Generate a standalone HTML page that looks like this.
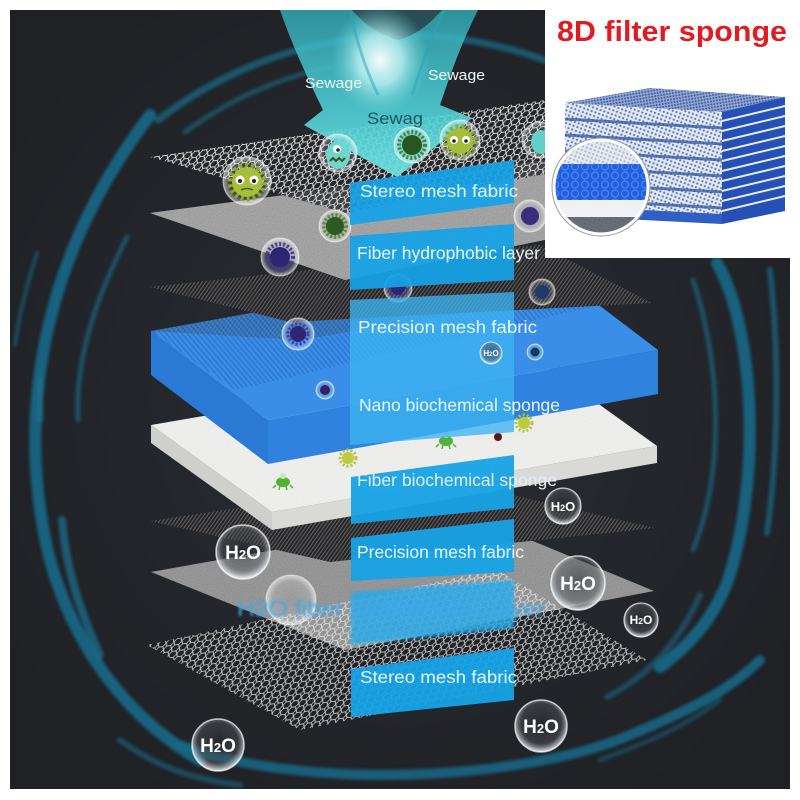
<!DOCTYPE html>
<html><head><meta charset="utf-8"><style>
html,body{margin:0;padding:0;background:#fff;}
svg{display:block;}
text{font-family:"Liberation Sans",Arial,sans-serif;}
</style></head><body>
<svg width="800" height="800" viewBox="0 0 800 800" xmlns="http://www.w3.org/2000/svg">
<defs>
  <clipPath id="darkclip"><rect x="10" y="10" width="780" height="779"/></clipPath>
  <radialGradient id="bgglow" cx="0.5" cy="0.5" r="0.6">
    <stop offset="0" stop-color="#2a2d33"/><stop offset="1" stop-color="#1f2125"/>
  </radialGradient>
  <radialGradient id="topglow" cx="0.5" cy="0.5" r="0.5">
    <stop offset="0" stop-color="#ffffff" stop-opacity="0.95"/>
    <stop offset="0.45" stop-color="#bdf1f2" stop-opacity="0.8"/>
    <stop offset="1" stop-color="#5fd2d8" stop-opacity="0"/>
  </radialGradient>
  <linearGradient id="arrowg" x1="0" y1="0" x2="0" y2="1">
    <stop offset="0" stop-color="#35b6c4" stop-opacity="0.75"/>
    <stop offset="0.6" stop-color="#4fd0d6" stop-opacity="0.9"/>
    <stop offset="1" stop-color="#6fe0e0" stop-opacity="0.95"/>
  </linearGradient>
  <radialGradient id="bub" cx="0.5" cy="0.5" r="0.5">
    <stop offset="0" stop-color="#ffffff" stop-opacity="0.05"/>
    <stop offset="0.75" stop-color="#ffffff" stop-opacity="0.15"/>
    <stop offset="1" stop-color="#ffffff" stop-opacity="0.6"/>
  </radialGradient>
  <radialGradient id="hbub" cx="0.5" cy="0.45" r="0.55">
    <stop offset="0" stop-color="#2a2c30" stop-opacity="0.55"/>
    <stop offset="0.7" stop-color="#55585e" stop-opacity="0.45"/>
    <stop offset="0.92" stop-color="#d8dde2" stop-opacity="0.75"/>
    <stop offset="1" stop-color="#ffffff" stop-opacity="0.9"/>
  </radialGradient>
  <pattern id="hex" width="8" height="6" patternUnits="userSpaceOnUse" patternTransform="rotate(-8) skewX(-30)">
    <path d="M0,0 L2,3 L0,6 M2,3 L6,3 M6,3 L8,0 M6,3 L8,6" stroke="#e4e4e4" stroke-width="0.9" fill="none"/>
  </pattern>
  <pattern id="hatch" width="3" height="3" patternUnits="userSpaceOnUse" patternTransform="rotate(35)">
    <rect width="3" height="3" fill="#262628"/>
    <line x1="0.5" y1="0" x2="0.5" y2="3" stroke="#626264" stroke-width="1"/>
  </pattern>
  <pattern id="bhatch" width="4" height="4" patternUnits="userSpaceOnUse" patternTransform="rotate(-40)">
    <line x1="1" y1="0" x2="1" y2="4" stroke="#1f5eb4" stroke-width="1.3"/>
  </pattern>
  <pattern id="smesh" width="4" height="4" patternUnits="userSpaceOnUse" patternTransform="rotate(20)">
    <circle cx="2" cy="2" r="1.1" fill="#3a5ca6"/>
  </pattern>
  <pattern id="tmesh" width="3" height="3" patternUnits="userSpaceOnUse" patternTransform="rotate(-10)">
    <rect width="3" height="3" fill="#dfe6f3"/>
    <circle cx="1.5" cy="1.5" r="1" fill="#3556a3"/>
  </pattern>
  <pattern id="bubbles" width="10" height="9" patternUnits="userSpaceOnUse">
    <circle cx="5" cy="4.5" r="3.5" fill="none" stroke="#5b8df0" stroke-width="1.2"/>
  </pattern>
  <filter id="grain" x="0" y="0" width="1" height="1">
    <feTurbulence type="fractalNoise" baseFrequency="0.9" numOctaves="1" seed="4" result="t"/>
    <feColorMatrix in="t" type="matrix" values="0.33 0.33 0.33 0 0  0.33 0.33 0.33 0 0  0.33 0.33 0.33 0 0  0 0 0 0 1" result="g"/>
    <feComposite in="SourceGraphic" in2="g" operator="arithmetic" k1="0.9" k2="0.55" k3="0" k4="0"/>
  </filter>
  <filter id="grainsoft" x="0" y="0" width="1" height="1">
    <feTurbulence type="fractalNoise" baseFrequency="0.9" numOctaves="1" seed="7" result="t"/>
    <feColorMatrix in="t" type="matrix" values="0.33 0.33 0.33 0 0  0.33 0.33 0.33 0 0  0.33 0.33 0.33 0 0  0 0 0 0 1" result="g"/>
    <feComposite in="SourceGraphic" in2="g" operator="arithmetic" k1="0.25" k2="0.88" k3="0" k4="0"/>
  </filter>
  <filter id="soft" x="-20%" y="-20%" width="140%" height="140%"><feGaussianBlur stdDeviation="1.6"/></filter>
  <filter id="blur3" x="-20%" y="-20%" width="140%" height="140%"><feGaussianBlur stdDeviation="1.3"/></filter>
  <clipPath id="magclip"><circle cx="601" cy="187" r="47"/></clipPath>
</defs>

<rect width="800" height="800" fill="#fff"/>
<rect x="10" y="10" width="780" height="779" fill="url(#bgglow)"/>

<!-- HUD arcs -->
<g clip-path="url(#darkclip)" fill="none" stroke-linecap="round" filter="url(#soft)">
  <path d="M158,120 A405,405 0 0 1 560,66" stroke="#1b6a86" stroke-width="7" opacity="0.75"/>
  <path d="M185,132 A380,380 0 0 1 330,67" stroke="#1b6a86" stroke-width="5" opacity="0.6"/>
  <path d="M150,115 C40,260 15,420 50,560 C75,650 130,720 200,760" stroke="#1a6a88" stroke-width="12" opacity="0.9"/>
  <path d="M127,237 C95,300 75,360 78,420" stroke="#1a6583" stroke-width="5" opacity="0.7"/>
  <path d="M37,253 C25,290 18,320 15,345" stroke="#1a6583" stroke-width="4" opacity="0.6"/>
  <path d="M40,380 L40,420" stroke="#1d6f8c" stroke-width="6" opacity="0.8"/>
  <path d="M62,520 C66,570 80,610 100,655" stroke="#1d6f8c" stroke-width="8" opacity="0.75"/>
  <path d="M180,745 C300,790 520,782 630,735 C690,710 730,690 760,660" stroke="#1a6a88" stroke-width="10" opacity="0.85"/>
  <path d="M120,740 C160,770 200,780 240,785" stroke="#1a6583" stroke-width="6" opacity="0.6"/>
  <path d="M717,263 C755,330 762,480 727,583 C712,620 690,645 660,667" stroke="#1a6a88" stroke-width="12" opacity="0.9"/>
  <path d="M693,280 C720,360 726,470 693,550" stroke="#1a6583" stroke-width="5" opacity="0.7"/>
  <path d="M770,270 C779,350 779,450 767,533" stroke="#1a6583" stroke-width="6" opacity="0.75"/>
  <path d="M700,595 C680,640 650,675 607,697" stroke="#1a6583" stroke-width="6" opacity="0.6"/>
  <path d="M600,760 C640,745 680,730 720,700" stroke="#1a6583" stroke-width="5" opacity="0.5"/>
</g>

<polygon points="147,645 496,569 647,660 300,730" fill="#202226"/>
<polygon points="151,572 470,515 654,591 345,650" fill="#959595" filter="url(#grain)"/>
<polygon points="147,645 496,569 647,660 300,730" fill="url(#hex)" opacity="0.85"/>
<polygon points="150,521 440,478 655,528 330,562" fill="url(#hatch)"/>

<!-- white slab -->
<polygon points="151,425 272,512 272,530 151,443" fill="#cfcfcb"/>
<polygon points="272,512 657,446 657,463 272,530" fill="#d9d9d5"/>
<polygon points="151,425 536,359 657,446 272,512" fill="#ececea" filter="url(#grainsoft)"/>

<!-- blue slab -->
<polygon points="151,331 268,420 268,464 151,375" fill="#2a79d4"/>
<polygon points="268,420 658,350 658,394 268,464" fill="#2f83de"/>
<polygon points="151,331 541,261 658,350 268,420" fill="#3b8ee8"/>
<polygon points="151,331 541,261 600,305 235,390" fill="url(#bhatch)" opacity="0.55"/>

<polygon points="150,287 540,245 652,303 290,322" fill="url(#hatch)"/>
<polygon points="151,331 541,261 652,303 540,300 300,340" fill="url(#hatch)" opacity="0.25"/>

<polygon points="150,213 545,160 720,205 345,280" fill="#a2a2a2" filter="url(#grain)"/>

<polygon points="150,157 545,100 720,140 345,213" fill="#26282c" opacity="0.8"/>
<polygon points="150,157 545,100 720,140 345,213" fill="url(#hex)"/>

<!-- Sewage arrows -->
<path d="M280,10 L478,10 C458,50 447,85 440,105 L472,118 L397,177 L304,125 L323,110 C306,75 291,42 280,10 Z" fill="url(#arrowg)"/>
<path d="M352,10 L442,10 C428,26 414,36 398,40 C382,36 366,26 352,10 Z" fill="#28343a" opacity="0.75"/>
<ellipse cx="380" cy="60" rx="50" ry="55" fill="url(#topglow)"/>
<path d="M350,10 C356,40 366,70 378,95" stroke="#2aa6b6" stroke-width="3" fill="none" opacity="0.5"/>
<path d="M444,10 C430,40 420,70 412,95" stroke="#2aa6b6" stroke-width="3" fill="none" opacity="0.5"/>

<text x="305" y="88" font-size="15" fill="#f2fafa" textLength="57" lengthAdjust="spacingAndGlyphs">Sewage</text>
<text x="428" y="80" font-size="15" fill="#f2fafa" textLength="57" lengthAdjust="spacingAndGlyphs">Sewage</text>
<text x="367" y="124" font-size="17" fill="#1d5566" textLength="56" lengthAdjust="spacingAndGlyphs">Sewag</text>

<g>
  <circle cx="247" cy="181" r="24" fill="url(#bub)" stroke="#fff" stroke-opacity="0.45" stroke-width="1.2"/>
  <circle cx="247" cy="182" r="17" fill="none" stroke="#8fa830" stroke-width="5" stroke-dasharray="3 3"/>
  <circle cx="247" cy="182" r="15" fill="#a6bf3a"/>
  <circle cx="240" cy="180" r="4.5" fill="#fff"/><circle cx="254" cy="180" r="4.5" fill="#fff"/>
  <circle cx="240" cy="181" r="2" fill="#222"/><circle cx="254" cy="181" r="2" fill="#222"/>
  <path d="M241,190 Q247,187 253,190" stroke="#4a5a1a" stroke-width="1.5" fill="none"/>
  <circle cx="338" cy="153" r="19" fill="url(#bub)" stroke="#fff" stroke-opacity="0.45" stroke-width="1.2"/>
  <ellipse cx="338" cy="155" rx="12" ry="14" fill="#6fd6cf"/>
  <circle cx="337" cy="149" r="4" fill="#fff"/><circle cx="338" cy="150" r="1.8" fill="#222"/>
  <path d="M330,161 l3,-3 l3,3 l3,-3 l3,3 l3,-3" stroke="#4b4a1c" stroke-width="2" fill="none"/>
  <circle cx="412" cy="145" r="18" fill="url(#bub)" stroke="#fff" stroke-opacity="0.45" stroke-width="1.2"/>
  <circle cx="412" cy="145" r="13" fill="none" stroke="#4f8034" stroke-width="4" stroke-dasharray="2 2"/>
  <circle cx="412" cy="145" r="10" fill="#2b5520"/>
  <circle cx="460" cy="140" r="20" fill="url(#bub)" stroke="#fff" stroke-opacity="0.45" stroke-width="1.2"/>
  <circle cx="460" cy="141" r="15" fill="none" stroke="#93ab32" stroke-width="4" stroke-dasharray="3 3"/>
  <circle cx="460" cy="141" r="13" fill="#a4bd3a"/>
  <circle cx="454" cy="140" r="4" fill="#fff"/><circle cx="466" cy="140" r="4" fill="#fff"/>
  <circle cx="454" cy="141" r="1.8" fill="#222"/><circle cx="466" cy="141" r="1.8" fill="#222"/>
  <circle cx="540" cy="140" r="18" fill="url(#bub)" stroke="#fff" stroke-opacity="0.45" stroke-width="1.2"/>
  <ellipse cx="541" cy="142" rx="10" ry="12" fill="#63d0c8"/>
  <circle cx="335" cy="226" r="16" fill="url(#bub)" stroke="#fff" stroke-opacity="0.45" stroke-width="1.2"/>
  <circle cx="335" cy="226" r="11" fill="none" stroke="#5a8a3a" stroke-width="4" stroke-dasharray="2 2"/>
  <circle cx="335" cy="226" r="9" fill="#2d5a20"/>
  <circle cx="280" cy="257" r="19" fill="url(#bub)" stroke="#fff" stroke-opacity="0.45" stroke-width="1.2"/>
  <circle cx="280" cy="257" r="13" fill="none" stroke="#4a3aa0" stroke-width="4" stroke-dasharray="2 2"/>
  <circle cx="280" cy="257" r="10" fill="#2f2575"/>
  <circle cx="530" cy="216" r="16" fill="url(#bub)" stroke="#fff" stroke-opacity="0.45" stroke-width="1.2"/>
  <circle cx="530" cy="216" r="9" fill="#3a2d80"/>
  <circle cx="398" cy="288" r="14" fill="url(#bub)" stroke="#fff" stroke-opacity="0.45" stroke-width="1.2"/>
  <circle cx="398" cy="288" r="9" fill="none" stroke="#4a3aa0" stroke-width="3" stroke-dasharray="2 2"/>
  <circle cx="398" cy="288" r="7" fill="#2f2575"/>
  <circle cx="542" cy="292" r="13" fill="url(#bub)" stroke="#fff" stroke-opacity="0.45" stroke-width="1.2"/>
  <circle cx="542" cy="292" r="7" fill="#1e3b6a"/>
  <circle cx="298" cy="334" r="16" fill="url(#bub)" stroke="#fff" stroke-opacity="0.5" stroke-width="1.2"/>
  <circle cx="298" cy="334" r="10" fill="none" stroke="#4a3aa0" stroke-width="3" stroke-dasharray="2 2"/>
  <circle cx="298" cy="334" r="8" fill="#2f2575"/>
  <circle cx="535" cy="352" r="8" fill="url(#bub)" stroke="#fff" stroke-opacity="0.5" stroke-width="1"/>
  <circle cx="535" cy="352" r="4.5" fill="#163a5a"/>
  <circle cx="325" cy="390" r="9" fill="url(#bub)" stroke="#fff" stroke-opacity="0.5" stroke-width="1"/>
  <circle cx="325" cy="390" r="5" fill="#3a1f60"/>
  <circle cx="348" cy="458" r="8" fill="none" stroke="#b2c23a" stroke-width="3" stroke-dasharray="2 2"/>
  <circle cx="348" cy="458" r="6" fill="#bccb40"/>
  <ellipse cx="446" cy="441" rx="7" ry="5" fill="#4fb436"/><path d="M439,444 l-3,3 M443,445 l-1,4 M449,445 l1,4 M453,444 l3,3" stroke="#4fb436" stroke-width="1.5"/>
  <circle cx="446" cy="435" r="3" fill="#c8e8b8"/>
  <circle cx="524" cy="423" r="8" fill="none" stroke="#b2c23a" stroke-width="3" stroke-dasharray="2 2"/>
  <circle cx="524" cy="423" r="6" fill="#bccb40"/>
  <ellipse cx="283" cy="482" rx="7" ry="5" fill="#4fb436"/><path d="M276,485 l-3,3 M280,486 l-1,4 M286,486 l1,4 M290,485 l3,3" stroke="#4fb436" stroke-width="1.5"/>
  <circle cx="283" cy="476" r="3" fill="#c8e8b8"/>
  <circle cx="498" cy="437" r="4" fill="#5e1616"/>
  <circle cx="291" cy="600" r="25" fill="url(#bub)" stroke="#fff" stroke-opacity="0.4" stroke-width="1.2"/>
</g>

<g>
  <polygon points="350,183 514,160 514,203 350,225" fill="#16a3e6" opacity="0.93"/>
  <polygon points="350,236 514,224 514,280 350,290" fill="#16a3e6" opacity="0.93"/>
  <polygon points="350,300 514,292 514,432 350,445" fill="#3cb3f2" opacity="0.78"/>
  <polygon points="351,477 514,455 514,508 351,524" fill="#16a3e6" opacity="0.95"/>
  <polygon points="351,538 514,519 514,572 351,581" fill="#16a3e6" opacity="0.95"/>
  <polygon points="351,592 514,580 514,628 351,645" fill="#2aa9e8" opacity="0.85" filter="url(#soft)"/>
  <polygon points="351,669 514,648 514,700 351,717" fill="#16a3e6" opacity="0.95"/>
</g>

<g fill="#e8f6fd" font-size="17.5">
  <text x="360" y="197" textLength="158" lengthAdjust="spacingAndGlyphs">Stereo mesh fabric</text>
  <text x="357" y="259" textLength="183" lengthAdjust="spacingAndGlyphs">Fiber hydrophobic layer</text>
  <text x="358" y="333" textLength="179" lengthAdjust="spacingAndGlyphs">Precision mesh fabric</text>
  <text x="359" y="411" textLength="201" lengthAdjust="spacingAndGlyphs">Nano biochemical sponge</text>
  <text x="357" y="486" textLength="200" lengthAdjust="spacingAndGlyphs" fill="#e4eef4">Fiber biochemical sponge</text>
  <text x="357" y="558" textLength="167" lengthAdjust="spacingAndGlyphs">Precision mesh fabric</text>
  <text x="360" y="683" textLength="157" lengthAdjust="spacingAndGlyphs">Stereo mesh fabric</text>
</g>
<text x="237" y="616" font-size="22" fill="#3fa6e6" textLength="308" lengthAdjust="spacingAndGlyphs" filter="url(#blur3)">H2O fiber hydrophobic layer</text>

<g font-weight="bold" fill="#fff" text-anchor="middle">
  <circle cx="491" cy="353" r="11" fill="url(#hbub)" stroke="#fff" stroke-opacity="0.7" stroke-width="1"/>
  <text x="491" y="356" font-size="8">H<tspan font-size="6">2</tspan>O</text>
  <circle cx="563" cy="506" r="18" fill="url(#hbub)" stroke="#fff" stroke-opacity="0.7" stroke-width="1.3"/>
  <text x="563" y="511" font-size="13">H<tspan font-size="9">2</tspan>O</text>
  <circle cx="243" cy="552" r="27" fill="url(#hbub)" stroke="#fff" stroke-opacity="0.7" stroke-width="1.5"/>
  <text x="243" y="559" font-size="19">H<tspan font-size="13">2</tspan>O</text>
  <circle cx="578" cy="583" r="27" fill="url(#hbub)" stroke="#fff" stroke-opacity="0.7" stroke-width="1.5"/>
  <text x="578" y="590" font-size="19">H<tspan font-size="13">2</tspan>O</text>
  <circle cx="641" cy="620" r="17" fill="url(#hbub)" stroke="#fff" stroke-opacity="0.7" stroke-width="1.3"/>
  <text x="641" y="624" font-size="12">H<tspan font-size="8.5">2</tspan>O</text>
  <circle cx="541" cy="726" r="26" fill="url(#hbub)" stroke="#fff" stroke-opacity="0.7" stroke-width="1.5"/>
  <text x="541" y="733" font-size="19">H<tspan font-size="13">2</tspan>O</text>
  <circle cx="218" cy="745" r="26" fill="url(#hbub)" stroke="#fff" stroke-opacity="0.7" stroke-width="1.5"/>
  <text x="218" y="752" font-size="19">H<tspan font-size="13">2</tspan>O</text>
</g>

<!-- Inset -->
<rect x="545" y="0" width="255" height="258" fill="#ffffff"/>
<text x="557" y="41" font-size="29" font-weight="bold" fill="#e01b22" textLength="230" lengthAdjust="spacingAndGlyphs">8D filter sponge</text>

<polygon points="565,103 650,88 785,97 722,112" fill="url(#tmesh)"/>
<polygon points="565,103 650,88 785,97 722,112" fill="#3f5da6" opacity="0.45"/>
<polygon points="565,103 722,112 722,224 565,214" fill="#e2e8f2"/>
<polygon points="565,103 722,112 722,224 565,214" fill="url(#smesh)" opacity="0.8"/>
<g stroke="#2f52a0" stroke-width="3" opacity="0.75">
  <line x1="565" y1="119" x2="722" y2="128"/>
  <line x1="565" y1="135" x2="722" y2="144"/>
  <line x1="565" y1="151" x2="722" y2="160"/>
  <line x1="565" y1="167" x2="722" y2="176"/>
  <line x1="565" y1="183" x2="722" y2="192"/>
  <line x1="565" y1="199" x2="722" y2="208"/>
</g>
<polygon points="565,206 722,214 722,224 565,216" fill="#2f5fc4"/>
<polygon points="722,112 785,97 785,211 722,224" fill="#2550b5"/>
<g stroke="#e8eef8" stroke-width="2">
  <line x1="722" y1="121" x2="785" y2="106"/>
  <line x1="722" y1="131" x2="785" y2="116"/>
  <line x1="722" y1="141" x2="785" y2="126"/>
  <line x1="722" y1="151" x2="785" y2="136"/>
  <line x1="722" y1="161" x2="785" y2="146"/>
  <line x1="722" y1="171" x2="785" y2="156"/>
  <line x1="722" y1="181" x2="785" y2="166"/>
  <line x1="722" y1="191" x2="785" y2="176"/>
  <line x1="722" y1="201" x2="785" y2="186"/>
  <line x1="722" y1="211" x2="785" y2="196"/>
</g>

<g clip-path="url(#magclip)">
  <rect x="550" y="138" width="104" height="28" fill="#e6e8ec"/>
  <rect x="550" y="138" width="104" height="28" fill="url(#smesh)" opacity="0.35"/>
  <rect x="550" y="164" width="104" height="38" fill="#1f5fe0"/>
  <rect x="550" y="164" width="104" height="38" fill="url(#bubbles)" opacity="0.8"/>
  <rect x="550" y="200" width="104" height="18" fill="#f0f1f3"/>
  <rect x="550" y="217" width="104" height="20" fill="#6d6e73"/>
  <rect x="550" y="217" width="104" height="20" fill="url(#smesh)" opacity="0.4"/>
</g>
<circle cx="601" cy="187" r="47" fill="none" stroke="#ffffff" stroke-width="3"/>
<circle cx="601" cy="187" r="49" fill="none" stroke="#9a9ca2" stroke-width="1"/>
</svg>
</body></html>
